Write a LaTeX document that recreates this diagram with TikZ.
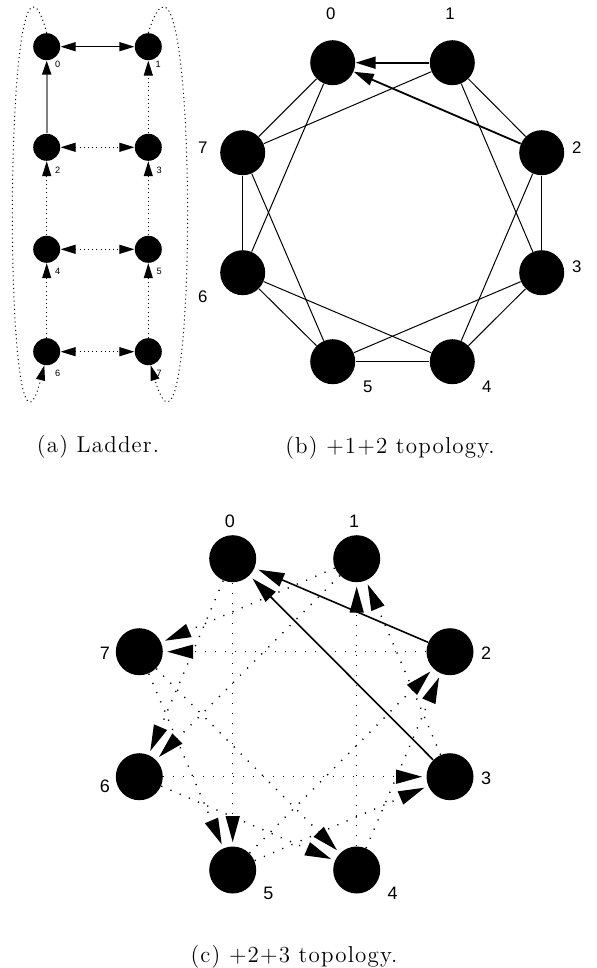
\documentclass[tikz,border=0pt]{standalone}
\usepackage{fontspec}
\usepackage{tikz}
\usetikzlibrary{arrows.meta,positioning,calc}
\newfontfamily\lblfont{Liberation Sans}
\newfontfamily\captfont[LetterSpace=5]{Latin Modern Roman}
\tikzset{
  pe/.style={circle, fill=black, inner sep=0pt, minimum size=#1},
  num/.style={font=\lblfont\fontsize{#1}{#1}\selectfont, inner sep=0pt},
  capt/.style={font=\captfont\fontsize{11.5}{14}\selectfont, inner sep=0pt},
  lad/.style={dash pattern=on 0.5pt off 1.6pt, line width=0.5pt},
  ladarr/.style={-{Triangle[length=7.5pt,width=4.5pt]}},
  ladboth/.style={{Triangle[length=7.5pt,width=4.5pt]}-{Triangle[length=7.5pt,width=4.5pt]}},
  ring/.style={line width=0.5pt},
  ringarr/.style={-{Triangle[length=10pt,width=6pt]}, line width=0.9pt},
  dotarr/.style={-{Triangle[length=13pt,width=7pt]}, dash pattern=on 0.6pt off 4.4pt, line width=0.7pt, shorten >=2pt},
  solarr/.style={-{Triangle[length=13pt,width=7pt]}, line width=0.8pt, shorten >=2pt},
}
\begin{document}
\begin{tikzpicture}[x=0.5pt, y=-0.5pt]
    \useasboundingbox (0,0) rectangle (596,968);
    % (a) ladder
    \node[pe=13.5pt] (a0) at (46.7,46.7) {}; \node[pe=13.5pt] (a1) at (148.3,46.7) {};
    \node[pe=13.5pt] (a2) at (46.7,147.3) {}; \node[pe=13.5pt] (a3) at (148.3,147.3) {};
    \node[pe=13.5pt] (a4) at (46.7,249.3) {}; \node[pe=13.5pt] (a5) at (148.3,249.3) {};
    \node[pe=13.5pt] (a6) at (46.7,351.7) {}; \node[pe=13.5pt] (a7) at (148.3,351.7) {};
    \node[num=4.6] (la0) at (57.7,64) {0}; \node[num=4.6] (la1) at (158.3,64) {1};
    \node[num=4.6] (la2) at (57.7,170.7) {2}; \node[num=4.6] (la3) at (159.3,170.7) {3};
    \node[num=4.6] (la4) at (57.7,271.7) {4}; \node[num=4.6] (la5) at (159.3,271.7) {5};
    \node[num=4.6] (la6) at (57.7,373.3) {6}; \node[num=4.6] (la7) at (159.3,373.3) {7};
    \draw[ladboth, line width=0.6pt] (a0)--(a1);
    \draw[ladarr, draw=gray, line width=1pt, -{Triangle[length=7pt,width=4.5pt,color=black]}] (a2)--(a0);
    \draw[lad, ladboth] (a2)--(a3); \draw[lad, ladboth] (a4)--(a5); \draw[lad, ladboth] (a6)--(a7);
    \draw[lad, ladarr] (a3)--(a1); \draw[lad, ladarr] (a4)--(a2); \draw[lad, ladarr] (a5)--(a3);
    \draw[lad, ladarr] (a6)--(a4); \draw[lad, ladarr] (a7)--(a5);
    \draw[lad, ladarr] (a0.north) .. controls (2,-130) and (2,530) .. (a6.-100);
    \draw[lad, ladarr] (a1.north) .. controls (199.5,-130) and (199.5,530) .. (a7.-80);
    \node[capt] (capa) at (98,447) {(a) Ladder.};
    % (b) +1+2
    \node[pe=22.5pt] (b0) at (332.7,62.7) {}; \node[pe=22.5pt] (b1) at (452.3,62.7) {};
    \node[pe=22.5pt] (b7) at (242.7,152.7) {}; \node[pe=22.5pt] (b2) at (541.7,152.7) {};
    \node[pe=22.5pt] (b6) at (242.7,272.7) {}; \node[pe=22.5pt] (b3) at (541.7,272.7) {};
    \node[pe=22.5pt] (b5) at (332.7,361.7) {}; \node[pe=22.5pt] (b4) at (452.3,361.7) {};
    \node[num=8.4] (lb0) at (330.7,13.3) {0}; \node[num=8.4] (lb1) at (450,13.3) {1};
    \node[num=8.4] (lb7) at (202.7,147.3) {7}; \node[num=8.4] (lb2) at (576.7,147.3) {2};
    \node[num=8.4] (lb6) at (202.7,296.7) {6}; \node[num=8.4] (lb3) at (576.7,266.7) {3};
    \node[num=8.4] (lb5) at (367.7,386.7) {5}; \node[num=8.4] (lb4) at (486.7,386.7) {4};
    \draw[ringarr] (b1)--(b0); \draw[ringarr] (b2)--(b0);
    \draw[ring] (b0)--(b7); \draw[ring] (b0)--(b6); \draw[ring] (b1)--(b7); \draw[ring] (b1)--(b2);
    \draw[ring] (b1)--(b3); \draw[ring] (b2)--(b3); \draw[ring] (b2)--(b4); \draw[ring] (b3)--(b4);
    \draw[ring] (b3)--(b5); \draw[ring] (b4)--(b5); \draw[ring] (b4)--(b6); \draw[ring] (b5)--(b6);
    \draw[ring] (b5)--(b7); \draw[ring] (b6)--(b7);
    \node[capt] (capb) at (390,448) {(b) +1+2 topology.};
    % (c) +2+3
    \node[pe=23.5pt] (c0) at (232.7,558.7) {}; \node[pe=23.5pt] (c1) at (356.7,558.7) {};
    \node[pe=23.5pt] (c7) at (139.3,651.7) {}; \node[pe=23.5pt] (c2) at (450,651.7) {};
    \node[pe=23.5pt] (c6) at (139.3,776.7) {}; \node[pe=23.5pt] (c3) at (450,776.7) {};
    \node[pe=23.5pt] (c5) at (232.7,870) {}; \node[pe=23.5pt] (c4) at (356.7,870) {};
    \node[num=9] (lc0) at (230,521.7) {0}; \node[num=9] (lc1) at (354,521.7) {1};
    \node[num=9] (lc7) at (105,653.3) {7}; \node[num=9] (lc2) at (486,653.3) {2};
    \node[num=9] (lc6) at (105,786.7) {6}; \node[num=9] (lc3) at (486,778.3) {3};
    \node[num=9] (lc5) at (268.3,893.3) {5}; \node[num=9] (lc4) at (392.7,893.3) {4};
    \draw[solarr] (c2)--(c0); \draw[solarr] (c3)--(c0);
    \draw[dotarr] (c3)--(c1); \draw[dotarr] (c4)--(c1);
    \draw[dotarr] (c4)--(c2); \draw[dotarr] (c5)--(c2);
    \draw[dotarr] (c5)--(c3); \draw[dotarr] (c6)--(c3);
    \draw[dotarr] (c6)--(c4); \draw[dotarr] (c7)--(c4);
    \draw[dotarr] (c7)--(c5); \draw[dotarr] (c0)--(c5);
    \draw[dotarr] (c0)--(c6); \draw[dotarr] (c1)--(c6);
    \draw[dotarr] (c1)--(c7); \draw[dotarr] (c2)--(c7);
    \node[capt] (capc) at (294,957) {(c) +2+3 topology.};
\end{tikzpicture}
\end{document}
